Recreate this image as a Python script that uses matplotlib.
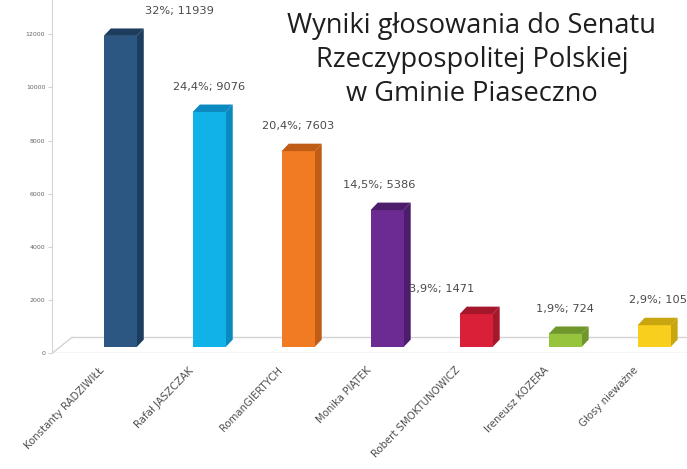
import matplotlib
matplotlib.use('Agg')
import matplotlib.pyplot as plt
from matplotlib.patches import Polygon
import numpy as np

# dane z wykresu
kandydaci = ['Konstanty RADZIWIŁŁ', 'Rafał JASZCZAK', 'RomanGIERTYCH', 'Monika PIĄTEK',
             'Robert SMOKTUNOWICZ', 'Ireneusz KOZERA', 'Głosy nieważne']
glosy = [11939, 9076, 7603, 5386, 1471, 724, 1053]
procenty = ['32%', '24,4%', '20,4%', '14,5%', '3,9%', '1,9%', '2,9%']
yticks = [0, 2000, 4000, 6000, 8000, 10000, 12000]

kolory = ['#2b5782', '#10b2e8', '#f07b22', '#6b2b92', '#da2038', '#96c43c', '#f7cf1c']
kolory_bok = ['#1d3d5e', '#0a8ac0', '#bf5c16', '#4c1d6b', '#a5172a', '#6f972b', '#c9a510']
label_dx = [0.67, 0.0, 0.0, -0.09, -0.39, 0.0, 0.08]

SZER = 0.37
DX = 0.08    # glebokosc 3D w osi x
DY = 280     # glebokosc 3D w osi y
BAZA = 230   # dol slupka nad podloga

fig = plt.figure(figsize=(6.87, 4.69), dpi=100)
ax = fig.add_axes([0.076, 0.247, 0.924, 0.753])
ax.set_xlim(-0.764, 6.37)
ax.set_ylim(0, 13290)

x = np.arange(len(glosy))

# podloga
fl = dict(color='#d4d4d4', lw=1.0, zorder=1)
ax.plot([-0.764, 6.37], [0, 0], **fl)
ax.plot([-0.54, 6.37], [600, 600], **fl)
ax.plot([-0.764, -0.54], [0, 600], **fl)

for i, v in enumerate(glosy):
    l = x[i] - SZER / 2
    r = x[i] + SZER / 2
    ax.bar(x[i], v - BAZA, bottom=BAZA, width=SZER, color=kolory[i], zorder=3)
    bok = Polygon([[r, BAZA], [r + DX, BAZA + DY], [r + DX, v + DY], [r, v]],
                  closed=True, facecolor=kolory_bok[i], edgecolor='none', zorder=2)
    ax.add_patch(bok)
    gora = Polygon([[l, v], [l + DX, v + DY], [r + DX, v + DY], [r, v]],
                   closed=True, facecolor=kolory_bok[i], edgecolor='none', zorder=4)
    ax.add_patch(gora)
    ax.text(x[i] + label_dx[i], v + 750, procenty[i] + '; ' + str(v),
            ha='center', va='bottom', fontsize=8.2, color='#4a4a4a', zorder=5)

for s in ['top', 'right', 'bottom']:
    ax.spines[s].set_visible(False)
ax.spines['left'].set_color('#d4d4d4')
ax.set_yticks(yticks)
ax.set_yticklabels([str(t) for t in yticks], fontsize=4.5, color='#666666')
ax.tick_params(axis='y', length=3, color='#d4d4d4', pad=2)
ax.set_xticks([])

for i, k in enumerate(kandydaci):
    ax.text(x[i] - 0.24, -450, k, rotation=46, rotation_mode='anchor',
            ha='right', va='top', fontsize=7.3, color='#4e4e4e')

fig.text(0.687, 0.975, 'Wyniki głosowania do Senatu\nRzeczypospolitej Polskiej\nw Gminie Piaseczno',
         ha='center', va='top', fontsize=19.6, family='Open Sans', color='#1e1e1e',
         linespacing=1.3)

fig.savefig('out.png', dpi=100)
